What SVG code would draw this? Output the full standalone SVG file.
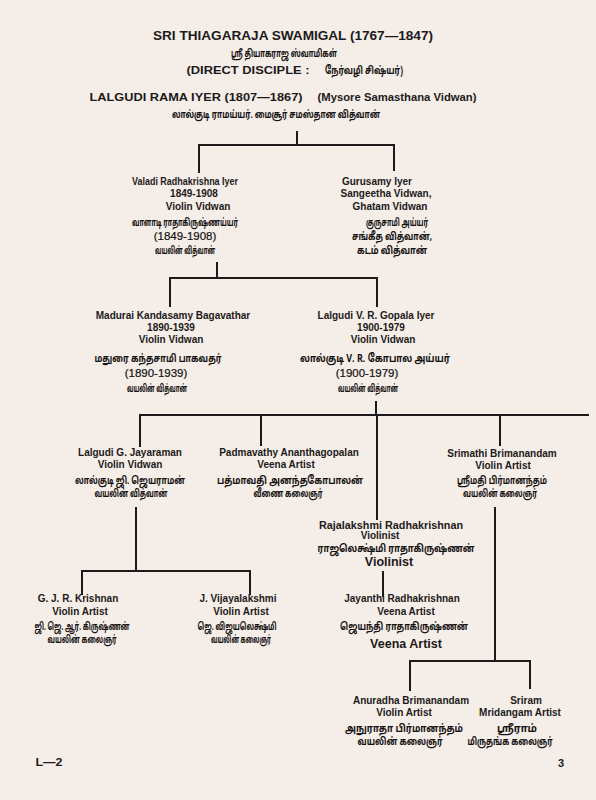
<svg xmlns="http://www.w3.org/2000/svg" width="596" height="800" viewBox="0 0 596 800">
<style>
.bg{fill:#f5ede7}
.ln{stroke:#1c1a1a;stroke-width:2;fill:none;stroke-linecap:square}
.en{font-family:"Liberation Sans",Arial,sans-serif;font-weight:bold;font-size:10px;fill:#1c1a1a;text-anchor:middle}
.ta{font-family:"Noto Sans Tamil","Noto Sans","Liberation Sans",sans-serif;font-weight:bold;font-size:11px;fill:#141212;text-anchor:middle}
.yr{font-family:"Liberation Sans",Arial,sans-serif;font-size:11.5px;fill:#141212;text-anchor:middle;stroke:#141212;stroke-width:0.2}
.big{font-size:12.5px}
.hd{font-size:12.5px}
.md{font-size:11px}
</style>
<rect class="bg" x="0" y="0" width="596" height="800"/>

<g id="header">
<text class="en hd" x="293" y="40" textLength="280" lengthAdjust="spacingAndGlyphs">SRI THIAGARAJA SWAMIGAL (1767—1847)</text>
<text class="ta" x="284" y="57" textLength="106" lengthAdjust="spacingAndGlyphs">ஸ்ரீ தியாகராஜ ஸ்வாமிகள்</text>
<text class="en md" x="248" y="74" textLength="123" lengthAdjust="spacingAndGlyphs">(DIRECT DISCIPLE :</text>
<text class="ta" x="364" y="74" textLength="78" lengthAdjust="spacingAndGlyphs">நேர்வழி சிஷ்யர்)</text>
</g>

<g id="n-lalgudi-rama">
<text class="en md" x="196" y="101" textLength="213" lengthAdjust="spacingAndGlyphs">LALGUDI RAMA IYER (1807—1867)</text>
<text class="en md" x="397" y="101" textLength="159" lengthAdjust="spacingAndGlyphs">(Mysore Samasthana Vidwan)</text>
<text class="ta" x="276" y="118" textLength="208" lengthAdjust="spacingAndGlyphs">லால்குடி ராமய்யர். மைசூர் சமஸ்தான வித்வான்</text>
</g>

<g id="connectors">
<path class="ln" d="M297 132V145M199 145H394M199 145V172M394 145V170"/>
<path class="ln" d="M217 263V278M170 278H377M170 278V306M377 278V306"/>
<path class="ln" d="M376 402V415M140 415H588M140 415V446M261 415V445M500 415V445M377 415V519"/>
<path class="ln" d="M136 508V571M82 571H250M82 571V594M250 571V594"/>
<path class="ln" d="M383 572V596"/>
<path class="ln" d="M495 508V661M410 661H530M410 661V690M530 661V688"/>
</g>

<g id="n-valadi">
<text class="en" x="185" y="185" textLength="106" lengthAdjust="spacingAndGlyphs">Valadi Radhakrishna Iyer</text>
<text class="en" x="194" y="197">1849-1908</text>
<text class="en" x="198" y="210">Violin Vidwan</text>
<text class="ta" x="185" y="226" textLength="106" lengthAdjust="spacingAndGlyphs">வாளாடி ராதாகிருஷ்ணய்யர்</text>
<text class="yr" x="185" y="240">(1849-1908)</text>
<text class="ta" x="185" y="254" textLength="60" lengthAdjust="spacingAndGlyphs">வயலின் வித்வான்</text>
</g>

<g id="n-gurusamy">
<text class="en" x="377" y="185">Gurusamy Iyer</text>
<text class="en" x="386" y="197">Sangeetha Vidwan,</text>
<text class="en" x="390" y="210">Ghatam Vidwan</text>
<text class="ta" x="397" y="226" textLength="62" lengthAdjust="spacingAndGlyphs">குருசாமி அய்யர்</text>
<text class="ta" x="392" y="240" textLength="80" lengthAdjust="spacingAndGlyphs">சங்கீத வித்வான்,</text>
<text class="ta" x="392" y="254" textLength="70" lengthAdjust="spacingAndGlyphs">கடம் வித்வான்</text>
</g>

<g id="n-madurai">
<text class="en" x="173" y="319">Madurai Kandasamy Bagavathar</text>
<text class="en" x="171" y="331">1890-1939</text>
<text class="en" x="171" y="343">Violin Vidwan</text>
<text class="ta" x="158" y="362" textLength="127" lengthAdjust="spacingAndGlyphs">மதுரை கந்தசாமி பாகவதர்</text>
<text class="yr" x="156" y="377">(1890-1939)</text>
<text class="ta" x="157" y="392" textLength="60" lengthAdjust="spacingAndGlyphs">வயலின் வித்வான்</text>
</g>

<g id="n-gopala">
<text class="en" x="376" y="319">Lalgudi V. R. Gopala Iyer</text>
<text class="en" x="381" y="331">1900-1979</text>
<text class="en" x="383" y="343">Violin Vidwan</text>
<text class="ta" x="375" y="362" textLength="150" lengthAdjust="spacingAndGlyphs">லால்குடி V. R. கோபால அய்யர்</text>
<text class="yr" x="367" y="377">(1900-1979)</text>
<text class="ta" x="368" y="392" textLength="60" lengthAdjust="spacingAndGlyphs">வயலின் வித்வான்</text>
</g>

<g id="n-jayaraman">
<text class="en" x="130" y="456">Lalgudi G. Jayaraman</text>
<text class="en" x="130" y="468">Violin Vidwan</text>
<text class="ta" x="130" y="484" textLength="110" lengthAdjust="spacingAndGlyphs">லால்குடி ஜி. ஜெயராமன்</text>
<text class="ta" x="131" y="497" textLength="73" lengthAdjust="spacingAndGlyphs">வயலின் வித்வான்</text>
</g>

<g id="n-padmavathy">
<text class="en" x="289" y="456">Padmavathy Ananthagopalan</text>
<text class="en" x="286" y="468">Veena Artist</text>
<text class="ta" x="290" y="484" font-size="10.5" textLength="146" lengthAdjust="spacingAndGlyphs">பத்மாவதி அனந்தகோபாலன்</text>
<text class="ta" x="288" y="497" textLength="69" lengthAdjust="spacingAndGlyphs">வீணை கலைஞர்</text>
</g>

<g id="n-srimathi">
<text class="en" x="502" y="457">Srimathi Brimanandam</text>
<text class="en" x="503" y="469">Violin Artist</text>
<text class="ta" x="502" y="484" textLength="90" lengthAdjust="spacingAndGlyphs">ஸ்ரீமதி பிர்மானந்தம்</text>
<text class="ta" x="500" y="497" textLength="74" lengthAdjust="spacingAndGlyphs">வயலின் கலைஞர்</text>
</g>

<g id="n-rajalakshmi">
<text class="en" x="391" y="529" textLength="144" lengthAdjust="spacingAndGlyphs">Rajalakshmi  Radhakrishnan</text>
<text class="en" x="380" y="539">Violinist</text>
<text class="ta" x="396" y="552" font-size="10" textLength="157" lengthAdjust="spacingAndGlyphs">ராஜலெக்ஷ்மி ராதாகிருஷ்ணன்</text>
<text class="en big" x="389" y="566">Violinist</text>
</g>

<g id="n-gjr">
<text class="en" x="78" y="602">G. J. R. Krishnan</text>
<text class="en" x="80" y="615">Violin Artist</text>
<text class="ta" x="82" y="630" textLength="95" lengthAdjust="spacingAndGlyphs">ஜி. ஜெ. ஆர். கிருஷ்ணன்</text>
<text class="ta" x="82" y="643" textLength="69" lengthAdjust="spacingAndGlyphs">வயலின் கலைஞர்</text>
</g>

<g id="n-vijayalakshmi">
<text class="en" x="238" y="602">J. Vijayalakshmi</text>
<text class="en" x="241" y="615">Violin  Artist</text>
<text class="ta" x="237" y="630" textLength="79" lengthAdjust="spacingAndGlyphs">ஜெ. விஜயலெக்ஷ்மி</text>
<text class="ta" x="241" y="643" textLength="60" lengthAdjust="spacingAndGlyphs">வயலின் கலைஞர்</text>
</g>

<g id="n-jayanthi">
<text class="en" x="402" y="602">Jayanthi Radhakrishnan</text>
<text class="en" x="406" y="615">Veena Artist</text>
<text class="ta" x="404" y="630" textLength="128" lengthAdjust="spacingAndGlyphs">ஜெயந்தி ராதாகிருஷ்ணன்</text>
<text class="en big" x="406" y="648">Veena Artist</text>
</g>

<g id="n-anuradha">
<text class="en" x="411" y="704">Anuradha Brimanandam</text>
<text class="en" x="404" y="716">Violin Artist</text>
<text class="ta" x="404" y="732" textLength="118" lengthAdjust="spacingAndGlyphs">அநுராதா பிர்மானந்தம்</text>
<text class="ta" x="400" y="745" textLength="85" lengthAdjust="spacingAndGlyphs">வயலின் கலைஞர்</text>
</g>

<g id="n-sriram">
<text class="en" x="526" y="704">Sriram</text>
<text class="en" x="520" y="716">Mridangam Artist</text>
<text class="ta" x="517" y="732" textLength="40" lengthAdjust="spacingAndGlyphs">ஸ்ரீராம்</text>
<text class="ta" x="510" y="745" textLength="85" lengthAdjust="spacingAndGlyphs">மிருதங்க கலைஞர்</text>
</g>

<g id="footer">
<text class="en md" x="49" y="766" textLength="27" lengthAdjust="spacingAndGlyphs">L—2</text>
<text class="en md" x="561" y="767">3</text>
</g>
</svg>
